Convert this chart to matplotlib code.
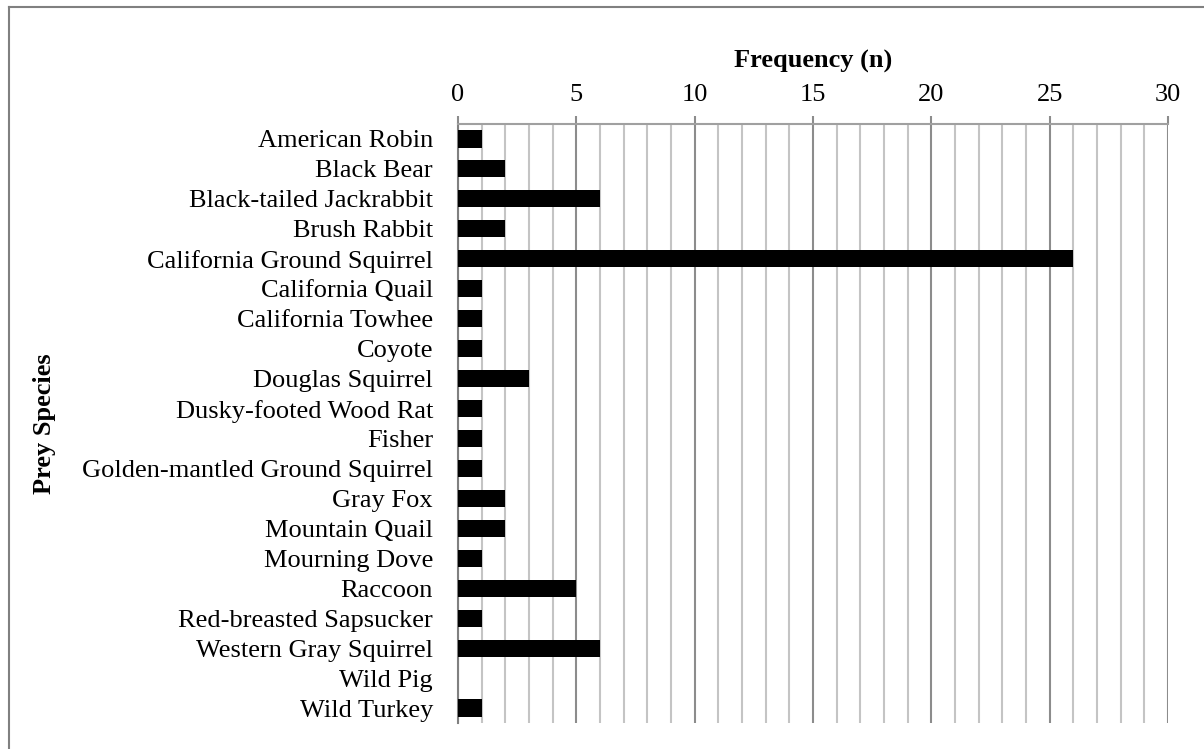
import matplotlib.pyplot as plt
import numpy as np
from matplotlib.ticker import MultipleLocator

plt.rcParams["font.family"] = ["Liberation Serif", "DejaVu Serif"]

species = [
    "American Robin", "Black Bear", "Black-tailed Jackrabbit", "Brush Rabbit",
    "California Ground Squirrel", "California Quail", "California Towhee",
    "Coyote", "Douglas Squirrel", "Dusky-footed Wood Rat", "Fisher",
    "Golden-mantled Ground Squirrel", "Gray Fox", "Mountain Quail",
    "Mourning Dove", "Raccoon", "Red-breasted Sapsucker",
    "Western Gray Squirrel", "Wild Pig", "Wild Turkey",
]
counts = [1, 2, 6, 2, 26, 1, 1, 1, 3, 1, 1, 1, 2, 2, 1, 5, 1, 6, 0, 1]

fs = 19

fig = plt.figure(figsize=(12.04, 7.49), dpi=100)
ax = fig.add_axes([458 / 1204, 1 - 723 / 749, 710 / 1204, 599 / 749])

y = np.arange(len(species))
ax.barh(y, counts, height=0.57, color="black", edgecolor="none", zorder=3)
ax.set_ylim(len(species) - 0.5, -0.5)
ax.set_xlim(0, 30)
ax.set_yticks(y)
ax.set_yticklabels(species, fontsize=fs)

ax.xaxis.set_major_locator(MultipleLocator(5))
ax.xaxis.set_minor_locator(MultipleLocator(1))
ax.xaxis.tick_top()
ax.xaxis.set_label_position("top")
ax.grid(axis="x", which="major", color="#8c8c8c", lw=1.5, zorder=1)
ax.grid(axis="x", which="minor", color="#c4c4c4", lw=1.5, zorder=1)
ax.tick_params(axis="x", which="major", length=6, width=1.5, color="#8c8c8c",
               labelsize=fs, pad=7)
ax.tick_params(axis="x", which="minor", length=0)
ax.tick_params(axis="y", length=0, pad=18)

for s in ["right", "bottom"]:
    ax.spines[s].set_visible(False)
ax.spines["top"].set_color("#a0a0a0")
ax.spines["top"].set_linewidth(1.5)
ax.spines["left"].set_color("#808080")
ax.spines["left"].set_linewidth(1.5)

ax.set_xlabel("Frequency (n)", fontsize=fs, fontweight="bold", labelpad=12)
fig.text(44 / 1204, 1 - 424 / 749, "Prey Species", rotation=90, fontsize=fs,
         fontweight="bold", ha="center", va="center")

# outer frame (left and top edges visible)
fig.add_artist(plt.Line2D([8.5 / 1204, 8.5 / 1204], [0, 1 - 7 / 749],
                          color="#808080", lw=1.5, transform=fig.transFigure))
fig.add_artist(plt.Line2D([8.5 / 1204, 1], [1 - 7 / 749, 1 - 7 / 749],
                          color="#808080", lw=1.5, transform=fig.transFigure))

fig.savefig("out.png", dpi=100)
